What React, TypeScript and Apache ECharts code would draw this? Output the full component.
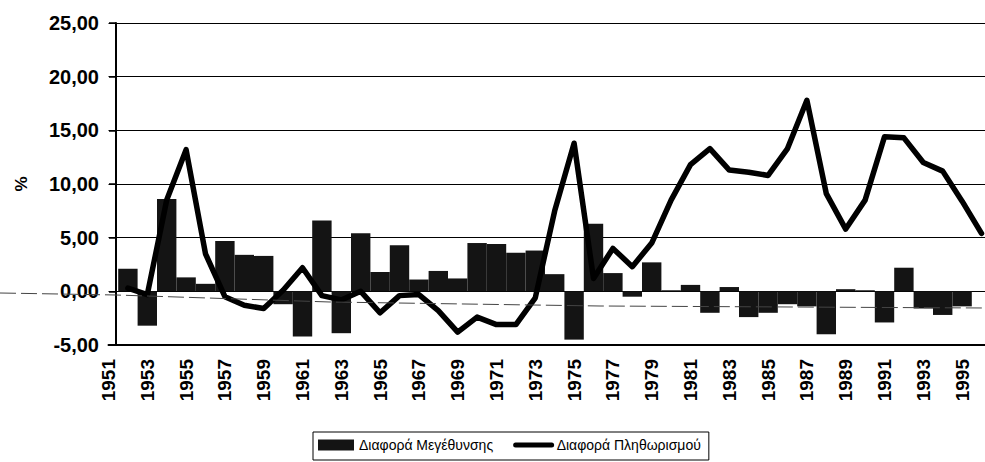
import React, { useEffect, useRef } from "react";
import * as echarts from "echarts";

const years: number[] = [
  1951, 1952, 1953, 1954, 1955, 1956, 1957, 1958, 1959, 1960,
  1961, 1962, 1963, 1964, 1965, 1966, 1967, 1968, 1969, 1970,
  1971, 1972, 1973, 1974, 1975, 1976, 1977, 1978, 1979, 1980,
  1981, 1982, 1983, 1984, 1985, 1986, 1987, 1988, 1989, 1990,
  1991, 1992, 1993, 1994, 1995, 1996,
];

// Διαφορά Μεγέθυνσης (bars)
const growthDiff: (number | null)[] = [
  null, 2.1, -3.2, 8.6, 1.3, 0.7, 4.7, 3.4, 3.3, -1.2,
  -4.2, 6.6, -3.9, 5.4, 1.8, 4.3, 1.1, 1.9, 1.2, 4.5,
  4.4, 3.6, 3.8, 1.6, -4.5, 6.3, 1.7, -0.5, 2.7, 0.1,
  0.6, -2.0, 0.4, -2.4, -2.0, -1.2, -1.4, -4.0, 0.2, 0.1,
  -2.9, 2.2, -1.6, -2.2, -1.4, null,
];

// Διαφορά Πληθωρισμού (line)
const inflationDiff: (number | null)[] = [
  null, 0.3, -0.3, 8.5, 13.2, 3.5, -0.5, -1.3, -1.6, 0.1,
  2.2, -0.4, -0.8, 0.0, -2.0, -0.4, -0.3, -1.8, -3.8, -2.4,
  -3.1, -3.1, -0.6, 7.5, 13.8, 1.2, 4.0, 2.3, 4.5, 8.5,
  11.8, 13.3, 11.3, 11.1, 10.8, 13.3, 17.8, 9.1, 5.8, 8.5,
  14.4, 14.3, 12.0, 11.2, 8.4, 5.4,
];

const labelYears: number[] = [
  1951, 1953, 1955, 1957, 1959, 1961, 1963, 1965, 1967, 1969, 1971,
  1973, 1975, 1977, 1979, 1981, 1983, 1985, 1987, 1989, 1991, 1993, 1995,
];

const seriesNames = ["Διαφορά Μεγέθυνσης", "Διαφορά Πληθωρισμού"];

const FONT = "'Liberation Sans', Arial, sans-serif";

export default function App() {
  const ref = useRef<HTMLDivElement>(null);

  useEffect(() => {
    if (!ref.current) return;
    const chart = echarts.init(ref.current, null, { renderer: "svg" });

    const gridLeft = 108.5;
    const axisX = 116;
    const gridWidth = 985 - gridLeft;
    const pxPerYear = 19.4;
    const xMin = 1951;
    const xMax = xMin + gridWidth / pxPerYear;

    const barData = years.map((y, i) => [y, growthDiff[i]]);
    const lineData = years.map((y, i) => [y, inflationDiff[i]]);

    chart.setOption({
      animation: false,
      backgroundColor: "#fff",
      textStyle: { fontFamily: FONT, color: "#000" },
      grid: { left: gridLeft, width: gridWidth, top: 23, height: 322 },
      xAxis: {
        type: "value",
        min: xMin,
        max: xMax,
        axisLine: { onZero: false, lineStyle: { color: "#000", width: 2 } },
        axisTick: { show: false },
        splitLine: { show: false },
        axisLabel: {
          customValues: labelYears,
          formatter: (v: number) => String(Math.round(v)),
          rotate: 90,
          margin: 14,
          fontSize: 19,
          fontWeight: "bold",
          color: "#000",
          fontFamily: FONT,
        },
      },
      yAxis: {
        type: "value",
        min: -5,
        max: 25,
        interval: 5,
        offset: gridLeft - axisX,
        name: "%",
        nameLocation: "middle",
        nameGap: 86,
        nameRotate: 90,
        nameTextStyle: { fontSize: 17, fontWeight: "bold", color: "#000", fontFamily: FONT },
        axisLine: { show: true, onZero: false, lineStyle: { color: "#000", width: 2 } },
        axisTick: { show: true, length: 7, lineStyle: { color: "#000", width: 1.5 } },
        splitLine: { show: true, lineStyle: { color: "#000", width: 1 } },
        axisLabel: {
          formatter: (v: number) => v.toFixed(2).replace(".", ","),
          margin: 17,
          fontSize: 20,
          fontWeight: "bold",
          color: "#000",
          fontFamily: FONT,
        },
      },
      legend: {
        data: [
          { name: seriesNames[0], icon: "rect" },
          { name: seriesNames[1], itemStyle: { opacity: 0 }, lineStyle: { width: 5, color: "#000" } },
        ],
        left: 313,
        top: 432,
        orient: "horizontal",
        borderColor: "#000",
        borderWidth: 1,
        padding: [6, 8, 8, 5],
        itemGap: 20,
        itemWidth: 36,
        itemHeight: 11,
        textStyle: { fontSize: 14, color: "#000", fontFamily: FONT },
      },
      graphic: [
        {
          type: "polyline",
          z: 100,
          silent: true,
          shape: { points: [[0, 293], [116, 295], [330, 302], [600, 306], [985, 308]] },
          style: { stroke: "#444", lineWidth: 1, lineDash: [16, 5], fill: "none" },
        },
      ],
      series: [
        {
          name: seriesNames[0],
          type: "bar",
          data: barData,
          barWidth: pxPerYear,
          itemStyle: { color: "#141414" },
          z: 2,
        },
        {
          name: seriesNames[1],
          type: "line",
          data: lineData,
          symbol: "none",
          connectNulls: false,
          lineStyle: { color: "#000", width: 5.5, join: "round", cap: "round" },
          itemStyle: { color: "#000" },
          z: 3,
        },
      ],
    });

    return () => chart.dispose();
  }, []);

  return (
    <div
      ref={ref}
      style={{ position: "fixed", left: 0, top: 0, width: 985, height: 462, background: "#fff" }}
    />
  );
}
